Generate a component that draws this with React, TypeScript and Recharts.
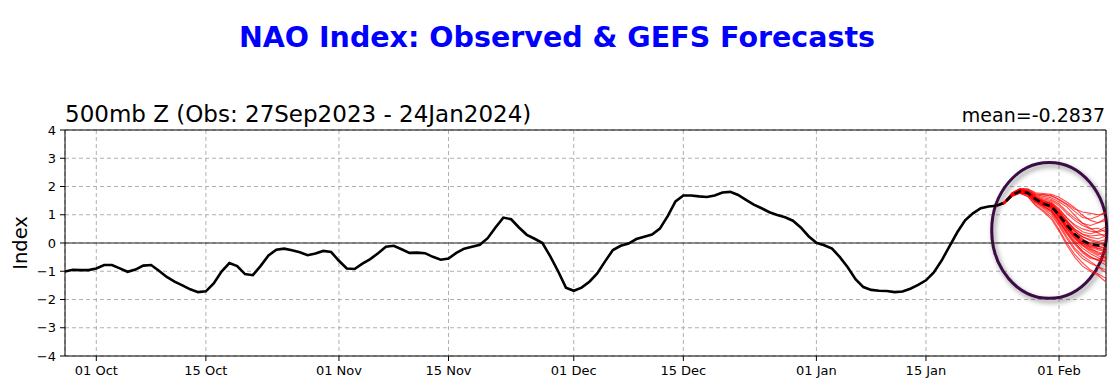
import {
  LineChart,
  Line,
  XAxis,
  YAxis,
  CartesianGrid,
  ReferenceLine,
  ReferenceArea,
} from "recharts";

// observed NAO index, one value per day from 27 Sep 2023 (day 0) to 24 Jan 2024 (day 119)
const observed = [
  -1.01, -0.95, -0.96, -0.96, -0.9, -0.78, -0.78, -0.9, -1.02, -0.94,
  -0.8, -0.78, -0.98, -1.2, -1.37, -1.5, -1.64, -1.74, -1.71, -1.43,
  -1.01, -0.71, -0.82, -1.1, -1.14, -0.81, -0.44, -0.24, -0.2, -0.26,
  -0.33, -0.43, -0.37, -0.28, -0.32, -0.63, -0.9, -0.92, -0.73, -0.57,
  -0.36, -0.13, -0.1, -0.22, -0.35, -0.34, -0.36, -0.49, -0.59, -0.55,
  -0.35, -0.2, -0.13, -0.06, 0.17, 0.55, 0.9, 0.84, 0.55, 0.29,
  0.15, 0.0, -0.47, -1.0, -1.58, -1.69, -1.58, -1.37, -1.08, -0.65,
  -0.25, -0.1, -0.02, 0.14, 0.22, 0.3, 0.51, 0.95, 1.47, 1.68,
  1.68, 1.65, 1.63, 1.68, 1.79, 1.81, 1.7, 1.53, 1.36, 1.23,
  1.09, 0.99, 0.91, 0.79, 0.55, 0.24, 0.01, -0.08, -0.2, -0.5,
  -0.86, -1.28, -1.56, -1.66, -1.69, -1.7, -1.74, -1.72, -1.62, -1.48,
  -1.32, -1.04, -0.62, -0.12, 0.38, 0.8, 1.05, 1.23, 1.29, 1.32,
];

// GEFS forecast, days 119..133
const forecastStart = 119;
const ensembleMean = [1.32, 1.42, 1.7, 1.83, 1.78, 1.55, 1.39, 1.3, 0.98, 0.64, 0.32, 0.08, -0.04, -0.09, -0.06];

const members = [
  [1.32, 1.45, 1.75, 1.9, 1.86, 1.7, 1.72, 1.68, 1.55, 1.38, 1.2, 1.1, 1.05, 1.0, 1.05],
  [1.32, 1.4, 1.68, 1.8, 1.7, 1.4, 1.22, 1.0, 0.6, 0.15, -0.25, -0.55, -0.72, -0.85, -0.95],
  [1.32, 1.44, 1.72, 1.86, 1.82, 1.62, 1.52, 1.45, 1.22, 0.9, 0.6, 0.4, 0.32, 0.42, 0.58],
  [1.32, 1.41, 1.69, 1.81, 1.74, 1.48, 1.3, 1.15, 0.78, 0.38, 0.02, -0.28, -0.48, -0.62, -0.78],
  [1.32, 1.43, 1.73, 1.88, 1.8, 1.6, 1.45, 1.38, 1.08, 0.72, 0.42, 0.22, 0.12, 0.05, 0.12],
  [1.32, 1.42, 1.71, 1.84, 1.79, 1.56, 1.4, 1.28, 0.92, 0.55, 0.2, -0.05, -0.22, -0.32, -0.38],
  [1.32, 1.46, 1.76, 1.93, 1.92, 1.78, 1.75, 1.72, 1.62, 1.45, 1.25, 0.98, 0.8, 0.72, 0.8],
  [1.32, 1.39, 1.66, 1.76, 1.66, 1.35, 1.15, 0.92, 0.48, 0.0, -0.4, -0.7, -0.95, -1.1, -1.25],
  [1.32, 1.42, 1.7, 1.83, 1.78, 1.55, 1.38, 1.3, 1.0, 0.6, 0.3, 0.05, -0.1, -0.15, -0.05],
  [1.32, 1.44, 1.74, 1.87, 1.84, 1.66, 1.56, 1.5, 1.32, 1.05, 0.8, 0.62, 0.5, 0.52, 0.38],
  [1.32, 1.4, 1.67, 1.79, 1.72, 1.46, 1.3, 1.12, 0.72, 0.32, -0.05, -0.35, -0.55, -0.58, -0.5],
  [1.32, 1.43, 1.72, 1.85, 1.81, 1.59, 1.44, 1.36, 1.08, 0.78, 0.5, 0.3, 0.2, 0.15, 0.25],
  [1.32, 1.41, 1.69, 1.82, 1.76, 1.52, 1.36, 1.25, 0.9, 0.48, 0.15, -0.1, -0.3, -0.45, -0.55],
  [1.32, 1.45, 1.77, 1.91, 1.88, 1.72, 1.65, 1.6, 1.45, 1.28, 0.98, 0.7, 0.52, 0.35, 0.22],
  [1.32, 1.42, 1.7, 1.84, 1.77, 1.53, 1.37, 1.28, 0.95, 0.58, 0.25, 0.0, -0.15, -0.25, -0.3],
  [1.32, 1.4, 1.68, 1.79, 1.7, 1.44, 1.26, 1.08, 0.66, 0.22, -0.18, -0.45, -0.65, -0.85, -1.05],
  [1.32, 1.43, 1.71, 1.85, 1.8, 1.57, 1.41, 1.33, 1.02, 0.66, 0.35, 0.12, 0.0, -0.05, 0.0],
  [1.32, 1.44, 1.73, 1.86, 1.83, 1.64, 1.5, 1.42, 1.18, 0.88, 0.65, 0.5, 0.42, 0.38, 0.48],
  [1.32, 1.41, 1.68, 1.81, 1.75, 1.51, 1.34, 1.22, 0.88, 0.5, 0.18, -0.08, -0.25, -0.4, -0.35],
  [1.32, 1.42, 1.71, 1.84, 1.78, 1.55, 1.39, 1.31, 0.98, 0.62, 0.28, 0.02, -0.12, -0.2, -0.15],
  [1.32, 1.39, 1.65, 1.76, 1.64, 1.32, 1.1, 0.85, 0.42, -0.08, -0.5, -0.82, -1.0, -1.15, -1.38],
  [1.32, 1.46, 1.78, 1.92, 1.9, 1.75, 1.7, 1.66, 1.52, 1.35, 1.12, 0.9, 0.85, 0.95, 1.1],
  [1.32, 1.43, 1.72, 1.86, 1.8, 1.57, 1.43, 1.34, 1.04, 0.72, 0.42, 0.22, 0.08, 0.0, -0.1],
  [1.32, 1.41, 1.69, 1.82, 1.77, 1.54, 1.38, 1.26, 0.93, 0.52, 0.22, -0.02, -0.18, -0.35, -0.5],
  [1.32, 1.44, 1.74, 1.89, 1.85, 1.68, 1.6, 1.55, 1.38, 1.12, 0.88, 0.7, 0.62, 0.72, 0.88],
  [1.32, 1.4, 1.67, 1.79, 1.72, 1.47, 1.3, 1.14, 0.78, 0.35, 0.0, -0.3, -0.5, -0.62, -0.6],
  [1.32, 1.42, 1.72, 1.87, 1.84, 1.62, 1.46, 1.4, 1.15, 0.8, 0.45, 0.15, -0.05, -0.2, -0.28],
  [1.32, 1.41, 1.7, 1.83, 1.76, 1.5, 1.35, 1.2, 0.82, 0.42, 0.08, -0.18, -0.38, -0.52, -0.68],
  [1.32, 1.43, 1.73, 1.86, 1.79, 1.58, 1.48, 1.4, 1.12, 0.75, 0.48, 0.32, 0.25, 0.28, 0.3],
  [1.32, 1.44, 1.74, 1.88, 1.83, 1.6, 1.44, 1.3, 0.95, 0.58, 0.3, 0.1, -0.05, -0.12, -0.2],
];

const tickDays = [4, 18, 35, 49, 65, 79, 96, 110, 127];
const tickLabels = ["01 Oct", "15 Oct", "01 Nov", "15 Nov", "01 Dec", "15 Dec", "01 Jan", "15 Jan", "01 Feb"];
const yTicks = [-4, -3, -2, -1, 0, 1, 2, 3, 4];

const lastDay = 133;
const font = "'DejaVu Sans', sans-serif";

const data: any[] = [];
for (let d = 0; d <= lastDay; d++) {
  const row: any = { day: d };
  if (d < observed.length) row.obs = observed[d];
  const k = d - forecastStart;
  if (k >= 0 && k < ensembleMean.length) {
    row.mean = ensembleMean[k];
    members.forEach((m, i) => (row["m" + i] = m[k]));
  }
  data.push(row);
}

const minus = (v: number) => (v < 0 ? "\u2212" + Math.abs(v) : String(v));

// circled highlight around the forecast, with a soft drop shadow
const Ellipse = (props: any) => {
  const { x, y, width, height } = props;
  return (
    <g>
      <defs>
        <filter id="circleShadow" x="-20%" y="-20%" width="140%" height="140%">
          <feDropShadow dx="2" dy="3" stdDeviation="2.5" floodColor="#000" floodOpacity="0.45" />
        </filter>
      </defs>
      <ellipse
        cx={x + width / 2}
        cy={y + height / 2}
        rx={width / 2}
        ry={height / 2}
        fill="none"
        stroke="#3b0a45"
        strokeWidth={3}
        filter="url(#circleShadow)"
      />
    </g>
  );
};

export default function App() {
  return (
    <div style={{ position: "absolute", left: 0, top: 0, width: 1109, height: 386, background: "#fff", fontFamily: font }}>
      <svg width={1109} height={386} style={{ position: "absolute", left: 0, top: 0, pointerEvents: "none" }}>
        <text x={557} y={47} textAnchor="middle" fontSize={28.5} fontWeight="bold" fill="#0000ff" fontFamily={font}>
          NAO Index: Observed &amp; GEFS Forecasts
        </text>
        <text x={65} y={122} fontSize={23} fill="#000" fontFamily={font}>
          500mb Z (Obs: 27Sep2023 - 24Jan2024)
        </text>
        <text x={1105} y={122} textAnchor="end" fontSize={19} fill="#000" fontFamily={font}>
          mean=-0.2837
        </text>
      </svg>
      <div style={{ position: "absolute", left: 0, top: 0 }}>
        <LineChart width={1109} height={386} data={data} margin={{ top: 130, right: 3, bottom: 0, left: 0 }}>
          <CartesianGrid stroke="#b0b0b0" strokeDasharray="4 3" />
          <XAxis
            dataKey="day"
            type="number"
            domain={[0, lastDay]}
            ticks={tickDays}
            tickFormatter={(v: number) => tickLabels[tickDays.indexOf(v)]}
            allowDataOverflow
            height={30}
            stroke="#000"
            tickSize={5}
            tickMargin={5}
            tick={{ fill: "#000", fontSize: 13, fontFamily: font }}
          />
          <YAxis
            domain={[-4, 4]}
            ticks={yTicks}
            tickFormatter={minus}
            width={65}
            stroke="#000"
            tickSize={5}
            tickMargin={4}
            tick={{ fill: "#000", fontSize: 13, fontFamily: font }}
            label={{
              value: "Index",
              content: (p: any) => {
                const vb = p.viewBox;
                const cx = 27;
                const cy = vb.y + vb.height / 2;
                return (
                  <text x={cx} y={cy} transform={`rotate(-90 ${cx} ${cy})`} textAnchor="middle" fontSize={19.5} fill="#000" fontFamily={font}>
                    Index
                  </text>
                );
              },
            }}
          />
          <ReferenceLine y={4} stroke="#000" />
          <ReferenceLine x={lastDay} stroke="#000" />
          <ReferenceLine y={0} stroke="#222" strokeWidth={1} />
          <Line dataKey="obs" stroke="#000" strokeWidth={2.6} dot={false} isAnimationActive={false} />
          {members.map((_, i) => (
            <Line
              key={i}
              dataKey={"m" + i}
              stroke="#ff0000"
              strokeOpacity={0.7}
              strokeWidth={1.1}
              dot={false}
              isAnimationActive={false}
            />
          ))}
          <Line dataKey="mean" stroke="#000" strokeWidth={2.6} strokeDasharray="7 4" dot={false} isAnimationActive={false} />
          <ReferenceArea x1={118.4} x2={133.1} y1={-1.96} y2={2.85} ifOverflow="visible" shape={<Ellipse />} />
        </LineChart>
      </div>
    </div>
  );
}
